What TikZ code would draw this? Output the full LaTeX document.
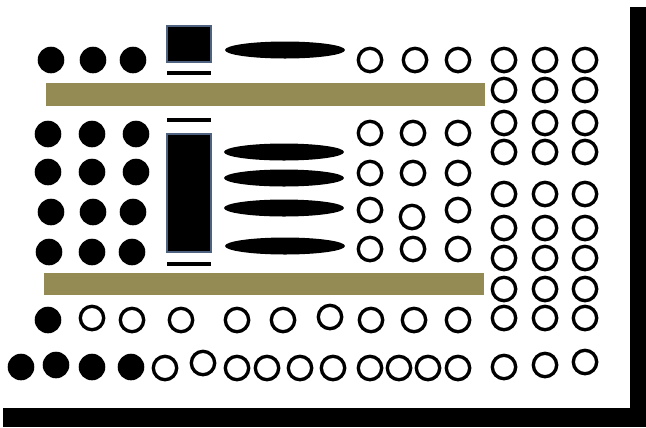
\documentclass[tikz,border=0pt]{standalone}
\usepackage{tikz}
\definecolor{benchgold}{HTML}{948A54}
\definecolor{boardedge}{RGB}{79,98,128}

\begin{document}
\begin{tikzpicture}[x=0.02cm, y=-0.02cm,
  fullseat/.style={fill=black},
  emptyseat/.style={draw=black, line width=1.9pt, fill=white},
  bench/.style={fill=benchgold},
  board/.style={fill=black, draw=boardedge, line width=0.7pt},
  ledge/.style={draw=black, line width=1.8pt},
  desk/.style={fill=black},
  wall/.style={fill=black}]

  \useasboundingbox (0,0) rectangle (646,427);

  % walls
  \fill[wall] (630,7) rectangle (646,427);
  \fill[wall] (3,408) rectangle (646,427);

  % benches
  \fill[bench] (46,83) rectangle (485,106);
  \fill[bench] (44,273) rectangle (484,295);

  % boards with ledges
  \draw[board] (167,26) rectangle (211,62);
  \draw[ledge] (167,73) -- (211,73);
  \draw[ledge] (167,120) -- (211,120);
  \draw[board] (167,134) rectangle (211,252);
  \draw[ledge] (167,264) -- (211,264);

  % desks
  \foreach \x/\y in {285/50, 284/152, 284/178, 284/208, 285/246}
    \fill[desk] (\x,\y) ellipse [x radius=1.2cm, y radius=0.17cm];

  % occupied seats
  \foreach \x/\y in {51/60, 93/60, 133/60,
                     48/134, 92/134, 136/134,
                     48/172, 92/172, 136/172,
                     51/212, 93/212, 133/212,
                     49/252, 92/252, 132/252,
                     48/320,
                     21/367, 56/365, 92/367, 131/367}
    \fill[fullseat] (\x,\y) circle [radius=0.266cm];

  % free seats
  \foreach \x/\y in {370/60, 415/60, 458/60,
                     370/133, 413/133, 458/133,
                     370/173, 413/173, 458/173,
                     370/210, 412/217, 458/210,
                     370/249, 413/249, 458/249,
                     92/318, 132/320, 181/320, 237/320, 283/320,
                     330/317, 371/320, 414/320, 458/320,
                     165/368, 203/363, 237/368, 267/368, 300/368,
                     333/368, 370/368, 399/368, 428/368, 458/368,
                     504/367, 545/365, 585/362}
    \draw[emptyseat] (\x,\y) circle [radius=0.234cm];
  \foreach \y in {60, 90, 123, 152, 194, 228, 258, 289, 318}
    \foreach \x in {504, 545, 585}
      \draw[emptyseat] (\x,\y) circle [radius=0.234cm];

\end{tikzpicture}
\end{document}
